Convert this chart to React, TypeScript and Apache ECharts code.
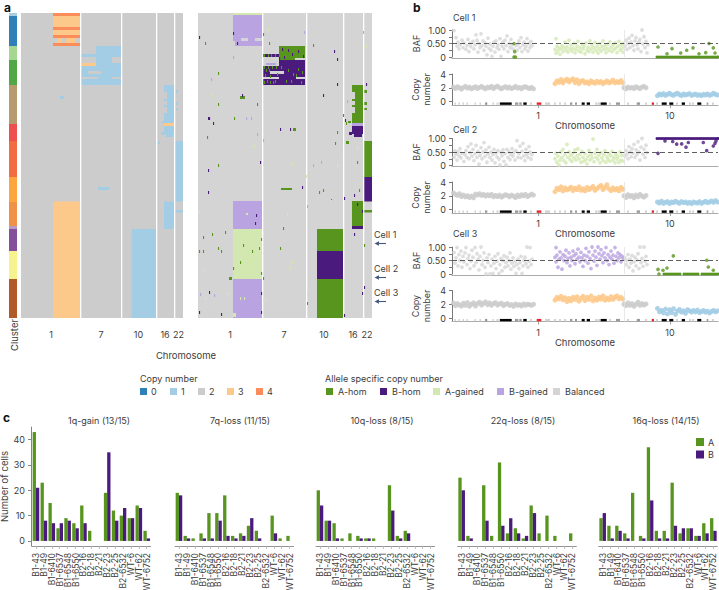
import React, { useEffect, useRef } from "react";
import * as echarts from "echarts";

const FONT = "Inter";
const INK = "#3c3c3c";
const A_HOM = "#57951f", B_HOM = "#4a1a7c", A_GAIN = "#d3e8b1", B_GAIN = "#b9a3e0", BAL = "#d4d4d4";
const CN = ["#2f7fb8", "#a3cde5", "#cccccc", "#fdc98a", "#fb8d5a"];
const CN_LABELS = ["0", "1", "2", "3", "4"];
const ALLELE_LABELS = ["A-hom", "B-hom", "A-gained", "B-gained", "Balanced"];
const ALLELE = [A_HOM, B_HOM, A_GAIN, B_GAIN, BAL, "#ffffff"];
const CN_PAL = [...CN, "#ffffff"];

const CLUSTER_COLORS = ["#a6cee3", "#2f7fb8", "#a6d68f", "#4fa845", "#b89a70", "#ee5050", "#f26c42", "#fda640", "#ef9248", "#b79ac8", "#84509a", "#f6f28e", "#b15928"];
const CLUSTER_ROWS = [[0, 3], [3, 33], [33, 47], [47, 72], [72, 111], [111, 128], [128, 164], [164, 189], [189, 213], [213, 216], [216, 238], [238, 266], [266, 305]];

const CHROM_NAMES = ["1", "7", "10", "16", "22"];
const CHROM_TICKS_A = [30, 80, 117.5, 144, 157.5];
const CHROM_TICKS_B = [32, 86, 126, 155, 169];
const SEPS_A = [59, 100, 135, 153];
const SEPS_B = [64, 108, 145, 165];

const HEAT_A = [
  [0, 162, 0, 305, 2],
  [32, 59, 0, 33, 3], [32, 59, 0, 3, 4], [32, 59, 14, 17, 4], [32, 59, 22, 25, 4], [32, 59, 30, 33, 4],
  [32, 36, 25, 30, 2], [41, 45, 25, 30, 2], [54, 59, 25, 30, 2],
  [32, 59, 188.6, 305, 3], [39, 43, 83, 86, 1],
  [75, 100, 33, 72, 1], [60, 75, 41, 44, 1], [60, 75, 50, 53, 3], [60, 75, 53, 72, 1],
  [91, 100, 44, 50, 2], [67, 80, 58, 61, 2], [60, 77, 64, 66, 2], [91, 100, 64, 66, 2], [77, 88, 174, 177, 1],
  [110.5, 135, 216, 305, 1],
  [143, 153, 72, 79, 1], [146, 153, 79, 100, 1], [143, 146, 86, 88, 1], [143, 146, 92, 94, 1], [143, 153, 100, 110, 1],
  [143, 153, 110, 113, 3], [143, 153, 113, 121, 1], [145, 152, 121, 124, 1], [141, 143, 108, 110, 1], [140, 143, 119, 122, 1], [137, 139, 128, 131, 1],
  [155, 157, 77, 80, 1], [155, 157, 89, 92, 1], [155, 157, 95, 97, 1],
  [143, 153, 188.6, 216, 1],
  [154, 162, 128, 188.6, 1], [154, 162, 197, 199.5, 1],
];

const HEAT_B = [
  [0, 174, 0, 305, 4],
  [35, 64, 0, 2, 2], [35, 64, 2, 33, 3], [43, 50, 25, 28, 4], [57, 64, 25, 28, 4], [35, 37, 28, 33, 4],
  [35, 64, 188, 216, 3], [35, 64, 216, 266, 2], [35, 64, 266, 305, 3],
  [81, 107, 33, 47, 0], [97, 107, 45, 50, 4], [81, 107, 47, 72, 1],
  [65, 81, 41, 44, 1], [68, 78, 50, 52, 3], [65, 81, 53, 72, 1],
  [98, 107, 64, 66, 4], [72, 86, 58, 61, 4], [65, 81, 64, 66, 4],
  [119, 145, 216, 238, 0], [119, 145, 238, 266, 1], [119, 145, 266, 305, 0],
  [154, 165, 72, 79, 0], [157, 165, 79, 100, 0], [154, 157, 86, 88, 0], [154, 157, 92, 94, 0], [154, 165, 100, 110, 0],
  [154, 165, 110, 113, 3], [154, 165, 113, 121, 1], [156, 164, 121, 124, 1], [151, 154, 119, 122, 1],
  [165.5, 169, 77, 80, 0], [165.5, 169, 89, 92, 0], [165.5, 169, 95, 97, 0], [148, 151, 128, 131, 0], [150, 153, 108, 110, 0],
  [154, 165, 188, 213, 0], [154, 165, 213, 216, 1],
  [166, 174, 128, 164, 0], [166, 174, 164, 188.5, 1], [166, 174, 197, 199.5, 0],
  [42, 47, 83, 86, 0], [83, 94, 175, 177, 0], [95, 98, 115, 118, 0], [31, 34, 264, 267, 0], [35, 38, 300, 304, 2], [48, 50, 200, 202, 2],
];

// isolated allele calls in the right heat map: [position, row, state]
const SPECKS_B = [
  [1, 23, 1], [7, 29, 0], [20, 59, 0], [13, 65, 3], [14, 81, 2], [20, 90, 0], [44, 81, 1], [59, 90, 0], [10, 104, 1], [11, 104, 1], [36, 104, 0], [48, 104, 3], [53, 104, 3],
  [15, 109, 1], [9, 123, 0], [59, 120, 3], [56, 132, 2], [65, 126, 3], [62, 148, 1], [20, 151, 0], [10, 156, 1], [10, 178, 1], [35, 19, 1], [35, 43, 3], [39, 29, 1],
  [70, 15, 2], [71, 29, 0], [65, 20, 0], [106, 18, 3], [115, 31, 0], [136, 37, 1], [139, 45, 1], [139, 70, 1], [125, 81, 1], [82, 115, 1], [92, 115, 1], [139, 118, 0],
  [137, 129, 0], [65, 150, 2], [94, 150, 2], [115, 151, 3], [123, 148, 3], [139, 151, 2], [108, 162, 2], [104, 173, 1], [121, 178, 0], [125, 176, 0], [133, 186, 0],
  [146, 184, 1], [156, 181, 1], [161, 176, 0], [149, 87, 3], [145, 101, 0], [147, 106, 1], [148, 109, 0], [168, 70, 1], [165, 18, 3], [168, 32, 2], [159, 148, 0], [159, 134, 2],
  [1, 198, 2], [5, 223, 0], [14, 220, 0], [27, 218, 0], [1, 237, 0], [5, 237, 0], [20, 234, 0], [23, 237, 0], [5, 256, 2], [2, 280, 3], [7, 284, 2], [11, 278, 1], [16, 281, 3],
  [29, 279, 2], [1, 298, 1], [23, 300, 1], [58, 201, 1], [57, 209, 1], [63, 225, 0], [45, 231, 0], [54, 237, 0], [61, 234, 0], [42, 248, 0], [35, 254, 0], [63, 259, 0], [65, 264, 0],
  [42, 284, 2], [46, 284, 2], [63, 279, 1], [63, 298, 1], [65, 286, 2], [67, 286, 2], [89, 200, 2], [85, 214, 0], [82, 234, 0], [94, 248, 2], [92, 253, 2], [109, 192, 3],
  [109, 280, 2], [109, 289, 0], [133, 187, 2], [159, 190, 1], [156, 220, 1], [164, 197, 1], [166, 231, 0], [166, 273, 1], [164, 279, 1], [146, 301, 1],
  // chromosome 7 mixed rows
  [66, 41, 0], [70, 41, 0], [73, 41, 0], [77, 41, 0], [66, 53, 0], [68, 56, 0], [70, 53, 0], [72, 62, 0], [74, 53, 0], [67, 61, 0], [69, 67, 0], [75, 68, 0], [78, 53, 0], [79, 60, 0],
  [66, 68, 0], [72, 68, 0], [77, 67, 0], [71, 56, 0], [83, 53, 0], [90, 56, 0], [95, 60, 0], [88, 67, 0], [93, 67, 0], [100, 55, 0], [104, 58, 0], [98, 61, 0], [103, 68, 0],
  [84, 35, 1], [90, 36, 1], [94, 40, 1], [100, 37, 1], [105, 42, 1], [86, 43, 1], [81, 44, 1],
];

const CATEGORIES = ["B1-43", "B1-49", "B1-6410", "B1-6537", "B1-6548", "B1-6550", "B2-16", "B2-18", "B2-21", "B2-23", "B2-25", "B2-6532", "WT-6", "WT-62", "WT-6752"];
const GAIN1Q_A = [43, 23, 15, 5, 9, 7, 14, 4, 0, 19, 12, 10, 9, 14, 4];
const GAIN1Q_B = [21, 8, 7, 7, 8, 5, 7, 0, 0, 35, 8, 13, 9, 13, 1];
const LOSS7Q_A = [19, 2, 1, 3, 11, 11, 18, 2, 3, 6, 4, 0, 10, 1, 2];
const LOSS7Q_B = [18, 1, 0, 1, 1, 8, 2, 1, 2, 9, 1, 0, 3, 0, 0];
const LOSS10Q_A = [20, 8, 7, 1, 3, 2, 1, 1, 0, 22, 2, 4, 0, 0, 0];
const LOSS10Q_B = [14, 8, 1, 0, 0, 1, 1, 0, 0, 12, 1, 3, 0, 0, 0];
const LOSS22Q_A = [25, 2, 0, 22, 2, 31, 3, 5, 1, 14, 3, 10, 2, 0, 3];
const LOSS22Q_B = [20, 1, 0, 8, 0, 6, 9, 3, 2, 11, 0, 0, 0, 0, 0];
const LOSS16Q_A = [9, 6, 6, 3, 19, 2, 37, 4, 4, 23, 3, 5, 2, 7, 9];
const LOSS16Q_B = [11, 1, 4, 1, 0, 1, 16, 1, 1, 6, 5, 5, 2, 3, 4];
const BAR_PANELS = [
  { title: "1q-gain (13/15)", a: GAIN1Q_A, b: GAIN1Q_B, left: 32, right: 150.7, cx: 99 },
  { title: "7q-loss (11/15)", a: LOSS7Q_A, b: LOSS7Q_B, left: 175, right: 293.6, cx: 240 },
  { title: "10q-loss (8/15)", a: LOSS10Q_A, b: LOSS10Q_B, left: 316, right: 434.6, cx: 382 },
  { title: "22q-loss (8/15)", a: LOSS22Q_A, b: LOSS22Q_B, left: 457.7, right: 576.3, cx: 523 },
  { title: "16q-loss (14/15)", a: LOSS16Q_A, b: LOSS16Q_B, left: 598.7, right: 717.3, cx: 666 },
];

// chromosome band strip: [start, end, shade]
const BAND_SHADES = ["#d2d2d2", "#999999", "#000000", "#e8242a"];
const BANDS = [
  [2.5, 4, 0], [6.5, 8, 0], [10.5, 12, 0], [14.5, 16, 0], [22.5, 24, 0], [27.5, 29, 0], [33, 35.3, 1], [40.5, 42, 0], [44.5, 46, 0], [46.5, 48, 0], [48, 59.7, 2], [63, 66.3, 1], [67.3, 69.7, 1],
  [71.3, 74.7, 2], [78, 80, 0], [84.7, 89.3, 3], [93, 98, 0], [102, 104, 0], [107, 109, 0], [112, 114, 0], [118, 120.3, 1], [123, 125, 1], [129.7, 132.7, 2], [134.7, 138, 2], [143, 145, 0],
  [145.5, 148.7, 0], [148.7, 154.7, 2], [157, 159, 0], [164, 168, 1], [175, 177, 0], [184.7, 188, 1], [193, 195, 0], [199.7, 202, 3], [204, 206, 0], [209.7, 214.7, 2], [217.3, 221.3, 2],
  [224, 226, 0], [229.7, 233, 2], [237, 239, 0], [240, 242, 0], [245.3, 249.3, 2], [254.7, 256.3, 1], [260, 262, 0],
];

// BAF points: [genome position, BAF]
const C1_BAF_GREY_L = [[2, .98], [4, .72], [5, .4], [6, .55], [7, .3], [8, .45], [10, .62], [11, .35], [12, .52], [14, .28], [15, .42], [16, .65], [17, .2], [18, .5], [19, .38], [21, .58], [22, .3], [23, .45], [24, .82], [25, .62], [26, .18], [27, .5], [28, .35], [29, .86], [30, .42], [31, .6], [32, .25], [33, .52], [34, .4], [35, .08], [36, .7], [37, .32], [38, .48], [39, .25], [40, .02], [41, .4], [42, .55], [43, .18], [44, .6], [45, .35], [46, .45], [47, .28], [48, .68], [49, .02], [50, .4], [51, .55], [52, .3], [53, .62], [54, .42], [55, .78], [56, .2], [57, .5], [58, .35], [59, .65], [60, .45], [61, .3], [64, .42], [65, .25], [66, .48], [67, .6], [68, .35], [69, .72], [70, .2], [71, .45], [72, .55], [73, .3], [74, .4], [75, .68], [76, .22], [77, .5], [78, .35], [79, .58], [80, .42]];
const C1_BAF_GAIN = [[103, .28], [104, .14], [104, .68], [105, .4], [106, .22], [107, .33], [108, .1], [109, .3], [110, .42], [111, .2], [112, .35], [113, .55], [114, .25], [115, .38], [116, .18], [117, .62], [118, .3], [119, .45], [120, .22], [121, .33], [122, .5], [123, .15], [124, .28], [125, .4], [126, .58], [127, .22], [128, .35], [129, .18], [130, .48], [131, .3], [132, .4], [133, .12], [134, .52], [135, .25], [136, .36], [137, .2], [138, .6], [139, .3], [140, .44], [141, .18], [142, .34], [143, .54], [144, .24], [145, .4], [146, .14], [147, .3], [148, .5], [149, .22], [150, .38], [151, .6], [152, .28], [153, .42], [154, .16], [155, .32], [156, .48], [157, .24], [158, .56], [159, .36], [160, .2], [161, .44], [162, .28], [163, .52], [164, .34], [165, .16], [166, .4], [167, .58], [168, .26], [169, .44], [170, .32], [171, .18], [171, .5]];
const C1_BAF_GREY_R = [[173, .4], [174, .62], [175, .28], [176, .5], [177, .7], [178, .35], [179, .55], [180, .8], [181, .42], [182, .25], [183, .6], [184, .72], [185, .45], [186, .3], [187, .55], [188, .65], [189, .2], [190, 1], [191, .48], [192, .75], [193, .35], [194, .58], [195, .15], [196, .45]];
const C1_BAF_A = [[62, .5], [62.7, .2], [62, 0], [63.5, 0], [206, .37], [215, .12], [220, .31], [228.7, .15], [234.7, .25], [241, .34], [247, .12], [253.7, .16], [257, .5], [261.3, .34], [263, .15]];
const C1_HOM_X = [205, 207, 209, 211, 213, 215, 217, 219, 221, 223, 225, 227, 229, 231, 233, 235, 237, 239, 241, 243, 245, 247, 249, 251, 253, 255, 257, 259, 261, 263, 265, 266];

const C2_BAF_GREY_L = [[2, .3], [3, .55], [4, .42], [5, .2], [6, .5], [7, .35], [8, .62], [9, .28], [10, .45], [12, .15], [13, .4], [14, .55], [15, .3], [16, .7], [17, .25], [18, .48], [19, .8], [20, .35], [21, .6], [22, .18], [23, .44], [24, .74], [25, .3], [26, .52], [27, .05], [28, .38], [29, .66], [30, .25], [31, .5], [32, .85], [33, .34], [34, .58], [35, .12], [36, .42], [37, .68], [38, .3], [39, .5], [40, .2], [41, .4], [42, .6], [43, .1], [44, .46], [45, .32], [46, .55], [47, .24], [48, .02], [49, .48], [50, .36], [51, .58], [52, .16], [53, .44], [54, .02], [55, .6], [56, .3], [57, .5], [58, .22], [59, .4], [60, .62], [61, .35], [62, .48], [63, .2], [64, .55], [65, .92], [66, .3], [67, .44], [68, .72], [69, .28], [70, .52], [71, .82], [72, .36], [73, .18], [74, .6], [75, .42], [76, .3], [77, .7], [78, .5], [79, .24], [80, .4]];
const C2_BAF_GAIN = [[103, .25], [104, .45], [105, .12], [106, .35], [107, .02], [108, .2], [109, .5], [110, .3], [111, .6], [112, .18], [113, .4], [114, .1], [115, .78], [116, .3], [117, .5], [118, .22], [119, .38], [120, .15], [121, .46], [122, .28], [123, .58], [124, .2], [125, .36], [126, .62], [127, .25], [128, .42], [129, .12], [130, .52], [131, .3], [132, .16], [133, .44], [134, .22], [135, .06], [136, .34], [137, .56], [138, .2], [139, .4], [140, .28], [141, .98], [142, .14], [143, .46], [144, .3], [145, .6], [146, .22], [147, .38], [148, .1], [149, .48], [150, .28], [151, .18], [152, .4], [153, .55], [154, .12], [155, .32], [156, .24], [157, .44], [158, .16], [159, .36], [160, .52], [161, .2], [162, .3], [163, .1], [164, .42], [165, .24], [166, .34], [167, .12], [168, .5], [169, .2], [170, .38], [171, .16]];
const C2_BAF_GREY_R = [[173, .35], [174, .55], [175, .42], [176, .25], [177, .7], [178, .5], [179, .32], [180, .62], [181, .45], [182, .78], [183, .3], [184, .58], [185, .4], [186, .88], [187, .5], [188, .2], [189, .68], [190, 1], [191, .42], [192, .6], [193, .3], [194, .75], [195, .48]];
const C2_BAF_B = [[206, .45], [213, .91], [220.7, .89], [224.7, .79], [229.7, .8], [234, .68], [236.3, .85], [251.3, .85], [254.7, .55], [261.3, .72], [263, .82], [264, .91]];
const C2_HOM_X = [205, 207, 209, 211, 213, 215, 217, 219, 221, 223, 225, 227, 229, 231, 233, 235, 237, 239, 241, 243, 245, 247, 249, 251, 253, 255, 257, 259, 261, 263, 265, 266];

const C3_BAF_GREY_L = [[2, .8], [3, .4], [4, .6], [5, .98], [6, .3], [7, .72], [8, .5], [9, .85], [10, .25], [11, .65], [12, .45], [13, .78], [14, .98], [15, .35], [16, .58], [17, .7], [18, .2], [19, .48], [20, .88], [21, .62], [22, .3], [23, .98], [24, .42], [25, .75], [26, .55], [27, .15], [28, .65], [29, 1], [30, .35], [31, .5], [32, .78], [33, .25], [34, 0], [35, .6], [36, .42], [37, .72], [38, 0], [39, .3], [40, .55], [41, .02], [42, .4], [43, .65], [44, .2], [45, .48], [46, .75], [47, .02], [48, .35], [49, .58], [50, .12], [51, .5], [52, .68], [53, .25], [54, .42], [55, .62], [56, .3], [57, .5], [58, .78], [59, .18], [60, .4], [61, .6], [62, .28], [63, .46], [64, .02], [65, .35], [66, .55], [67, .2], [68, .42], [69, .65], [70, .02], [71, .3], [72, .5], [73, .62], [74, .38], [75, 1], [76, .25], [77, .48], [78, .98], [79, .35], [80, .55]];
const C3_BAF_GAIN = [[103, .62], [104, .98], [104, .45], [105, .7], [106, .25], [107, .55], [108, .82], [109, .6], [110, .18], [111, .72], [112, .5], [113, .66], [114, .88], [115, .42], [116, .58], [117, .78], [118, .3], [119, .62], [120, .5], [121, .85], [122, .68], [123, .38], [124, .75], [125, .55], [126, .92], [127, .62], [128, .45], [129, .8], [130, .6], [131, .28], [132, .7], [133, .5], [134, .95], [135, .66], [136, .4], [137, .82], [138, .58], [139, .2], [140, 1], [141, .7], [142, .48], [143, .85], [144, .62], [145, .32], [146, 1], [147, .75], [148, .55], [149, .9], [150, .68], [151, .42], [152, .78], [153, .6], [154, .98], [155, .5], [156, .72], [157, .35], [158, .62], [159, .85], [160, .55], [161, .7], [162, .4], [163, .98], [164, .65], [165, .5], [166, .78], [167, .6], [168, .72], [169, .45], [170, .66], [171, .58]];
const C3_BAF_GREY_R = [[173, .6], [174, .35], [175, .5], [176, .72], [177, .25], [178, .55], [179, .4], [180, .68], [181, .12], [182, .45], [183, .62], [184, .3], [185, .52], [186, .75], [187, .2], [188, 1], [189, .42], [190, .58], [191, .28], [192, 1], [193, .48], [194, .65], [195, .35]];
const C3_BAF_A = [[206, .17], [211, .14], [215, .22], [221.3, .67], [254.7, .51], [256.3, .26], [261.3, .14], [207, 0]];
const C3_HOM_X = [212, 214, 216, 218, 220, 222, 224, 226, 228, 232, 234, 236, 238, 240, 242, 244, 246, 250, 252, 254, 256, 258, 260, 262, 264, 266];

// copy number per genomic bin; each segment gives its first bin position
const SEG_STARTS = [1.5, 103, 172, 205.5];
const C1_CN_GREY_L = [2.1, 1.9, 2.15, 2, 1.8, 2.05, 2.2, 1.95, 2.1, 1.85, 2, 2.15, 1.9, 2.05, 2.2, 2, 1.85, 2.1, 2, 2.2, 1.9, 2.1, 2.25, 2, 1.85, 2.05, 2.15, 1.95, 2.1, 1.9, 2, 2.2, 1.95, 2.05, 1.85, 2.1, 2.15, 2, 1.9, 2.05, 1.85];
const C1_CN_ORANGE = [2.6, 3, 2.8, 3.2, 2.7, 3.05, 3.25, 2.85, 3.1, 3.3, 2.75, 3.15, 2.6, 2.95, 3.05, 2.7, 2.85, 2.6, 3, 2.8, 2.65, 2.95, 2.75, 2.9, 2.6, 2.8, 3, 2.7, 2.85, 3.1, 2.7, 2.9, 2.75, 3.05, 2.7];
const C1_CN_GREY_R = [2, 1.85, 2.1, 1.95, 2.05, 1.9, 2.15, 2, 1.9, 2.1, 2.2, 2];
const C1_CN_BLUE = [.85, 1.1, .95, 1.15, .9, 1.05, 1.2, 1, .9, 1.1, 1.2, 1, .85, 1.1, .95, 1.05, 1.15, .9, 1, 1.1, .9, 1, .85, 1.05, .95, 1.1, .9, 1, 1.2, 1.05, .95];
const C2_CN_GREY_L = [2.4, 2.2, 2.05, 2.3, 1.9, 2.1, 1.85, 2, 1.75, 1.95, 1.7, 2.25, 2.1, 2.3, 2.05, 2.2, 1.95, 2.15, 2, 2.2, 1.85, 2.05, 1.9, 2.1, 1.8, 2, 2.15, 2.05, 1.85, 2.1, 1.95, 1.75, 2.1, 1.9, 2.15, 2, 2.2, 1.9, 2.05, 2.25, 2.1];
const C2_CN_ORANGE = [2.6, 3.1, 2.9, 3.3, 2.7, 3.15, 2.85, 3, 3.25, 2.75, 3.1, 2.9, 3.3, 2.8, 3, 2.7, 3.2, 2.9, 3.1, 3.35, 2.8, 3.05, 3.3, 3.5, 2.9, 3.2, 3.6, 3, 2.75, 3.15, 2.85, 3.05, 2.7, 3.2, 2.95];
const C2_CN_GREY_R = [2, 1.75, 2.15, 1.9, 2.05, 1.7, 2.1, 1.85, 2.2, 1.95, 1.8, 2.05];
const C2_CN_BLUE = [1.1, .95, 1.2, .9, 1.05, 1.15, .85, 1.1, 1, 1.2, 1.05, .9, 1.15, 1, 1.1, .9, 1.05, .85, 1.1, 1, .95, 1.15, .9, 1.05, 1.2, 1, 1.1, 1.25, 1.05, 1.3, 1.1];
const C3_CN_GREY_L = [2.2, 1.8, 2.1, 1.9, 1.75, 2.15, 1.85, 2.25, 1.7, 2, 2.2, 1.75, 2.1, 2.3, 1.9, 2.15, 2.35, 1.95, 2.2, 1.85, 2.1, 2.25, 1.9, 2.05, 2.15, 1.8, 2, 2.1, 1.85, 1.95, 1.7, 2.05, 1.85, 1.95, 1.75, 2.05, 1.85, 2, 1.95, 1.85, 2];
const C3_CN_ORANGE = [2.6, 3, 2.8, 3.15, 2.65, 2.95, 2.4, 2.85, 2.5, 3, 2.7, 3.1, 2.45, 2.85, 3.15, 2.55, 3, 2.7, 3.2, 2.5, 2.9, 2.6, 3.05, 2.75, 3.2, 2.6, 2.9, 2.65, 3.1, 2.7, 3, 3.2, 2.8, 3, 2.75];
const C3_CN_GREY_R = [2, 1.8, 2.2, 1.85, 2.1, 1.7, 2, 2.3, 1.85, 2.1, 1.9, 2.05];
const C3_CN_BLUE = [1.4, .9, 1.1, .75, 1.3, .6, 1.2, .8, 1.35, .55, 1, 1.25, .85, 1.05, .7, 1.2, 1.05, .85, 1.1, .9, 1.15, .8, .95, 1.1, .85, 1, .75, .95, 1.1, .9, 1.05];

const CELLS = [
  { name: "Cell 1", titleY: 17, bafTop: 30, cnTop: 74, xLabelY: 125, grey: [C1_BAF_GREY_L, C1_BAF_GREY_R], gain: C1_BAF_GAIN, gainColor: A_GAIN, hom: C1_BAF_A, homColor: A_HOM, homX: C1_HOM_X, homY: 0, cn: [C1_CN_GREY_L, C1_CN_ORANGE, C1_CN_GREY_R, C1_CN_BLUE] },
  { name: "Cell 2", titleY: 129, bafTop: 138.5, cnTop: 182, xLabelY: 233, grey: [C2_BAF_GREY_L, C2_BAF_GREY_R], gain: C2_BAF_GAIN, gainColor: A_GAIN, hom: C2_BAF_B, homColor: B_HOM, homX: C2_HOM_X, homY: 1, cn: [C2_CN_GREY_L, C2_CN_ORANGE, C2_CN_GREY_R, C2_CN_BLUE] },
  { name: "Cell 3", titleY: 233, bafTop: 247, cnTop: 290.5, xLabelY: 341.5, grey: [C3_BAF_GREY_L, C3_BAF_GREY_R], gain: C3_BAF_GAIN, gainColor: B_GAIN, hom: C3_BAF_A, homColor: A_HOM, homX: C3_HOM_X, homY: 0, cn: [C3_CN_GREY_L, C3_CN_ORANGE, C3_CN_GREY_R, C3_CN_BLUE] },
];

const rectItem = (palette: string[]) => (_: any, api: any) => {
  const p0 = api.coord([api.value(0), api.value(2)]);
  const p1 = api.coord([api.value(1), api.value(3)]);
  return {
    type: "rect",
    shape: { x: p0[0], y: p0[1], width: p1[0] - p0[0], height: p1[1] - p0[1] },
    style: { fill: palette[api.value(4)] },
  };
};

const txt = (x: number, y: number, text: string, o: any = {}) => ({
  type: "text", x, y, rotation: o.rotation || 0, silent: true,
  style: {
    text, fill: o.fill || INK, fontFamily: FONT, fontSize: o.size || 9, fontWeight: o.weight || 400,
    textAlign: o.align || "left", textVerticalAlign: "middle",
  },
});

function buildOption() {
  const grid: any[] = [], xAxis: any[] = [], yAxis: any[] = [], series: any[] = [], graphic: any[] = [];
  const addGrid = (left: number, top: number, width: number, height: number) => {
    grid.push({ left, top, width, height, containLabel: false, outerBoundsMode: "none" });
    return grid.length - 1;
  };
  const hiddenY = (i: number, max: number) => yAxis.push({ gridIndex: i, type: "value", min: 0, max, inverse: true, show: false });
  const custom = (i: number, data: number[][], palette: string[]) =>
    series.push({ type: "custom", xAxisIndex: i, yAxisIndex: i, data, silent: true, clip: false, renderItem: rectItem(palette), encode: { x: [0, 1], y: [2, 3] } });

  // cluster bar
  const gc = addGrid(9, 13, 8, 305);
  xAxis.push({ gridIndex: gc, type: "value", min: 0, max: 1, show: false });
  hiddenY(gc, 305);
  custom(gc, CLUSTER_ROWS.map((r, k) => [0, 1, r[0], r[1], k]), CLUSTER_COLORS);

  // heat maps
  const heat = (left: number, width: number, rects: number[][], seps: number[], ticks: number[], pal: string[]) => {
    const g = addGrid(left, 13, width, 305);
    xAxis.push({
      gridIndex: g, type: "value", min: 0, max: width, position: "bottom", offset: 4,
      axisLine: { show: false }, splitLine: { show: false }, minorTick: { show: false },
      axisTick: { show: true, length: 3, customValues: ticks, lineStyle: { color: "#8a8a8a", width: 1 } },
      axisLabel: { show: true, customValues: ticks, margin: 8, fontSize: 9, color: INK, fontFamily: FONT, formatter: (v: number) => CHROM_NAMES[ticks.indexOf(v)] ?? "" },
    });
    hiddenY(g, 305);
    const sepRects = seps.map((s) => [s, s + 1.3, 0, 305, 5]);
    custom(g, [...rects, ...sepRects], pal);
    return g;
  };
  heat(21, 162, HEAT_A, SEPS_A, CHROM_TICKS_A, CN_PAL);
  const gb = heat(198, 174, HEAT_B, SEPS_B, CHROM_TICKS_B, ALLELE);
  custom(gb, SPECKS_B.map((s) => [s[0], s[0] + 1.1, s[1], s[1] + 3, s[2]]), ALLELE);

  // cell panels
  CELLS.forEach((cell) => {
    const gBaf = addGrid(452, cell.bafTop, 266, 27);
    xAxis.push({ gridIndex: gBaf, type: "value", min: 0, max: 266, offset: 1, axisLine: { show: true, onZero: false, lineStyle: { color: "#ababab", width: 1.2 } }, axisTick: { show: false }, axisLabel: { show: false }, splitLine: { show: false } });
    yAxis.push({
      gridIndex: gBaf, type: "value", min: 0, max: 1, interval: 0.25, name: "BAF", nameLocation: "middle", nameGap: 31, nameRotate: 90,
      nameTextStyle: { fontSize: 9, color: INK, fontFamily: FONT },
      axisLine: { show: true, lineStyle: { color: "#555", width: 0.8 } }, axisTick: { show: true, length: 3, lineStyle: { color: "#555", width: 0.8 } }, splitLine: { show: false },
      axisLabel: { margin: 6, fontSize: 9, color: INK, fontFamily: FONT, formatter: (v: number) => (v === 1 ? "1.00" : v === 0.5 ? "0.50" : v === 0 ? "0" : "") },
    });
    const sc = (g: number, data: any[], color: string, size = 3.8, opacity = 0.8, extra: any = {}) =>
      series.push({ type: "scatter", xAxisIndex: g, yAxisIndex: g, data, symbolSize: size, clip: false, silent: true, itemStyle: { color, opacity }, ...extra });
    sc(gBaf, cell.grey[0], "#d6d6d6", 3.8, 0.8, {
      markLine: { silent: true, symbol: "none", label: { show: false }, animation: false, lineStyle: { color: "#4d4d4d", type: [5, 3], width: 0.9 }, data: [{ yAxis: 0.5 }] },
    });
    sc(gBaf, cell.grey[1], "#d6d6d6", 3.8, 0.8, {
      markLine: { silent: true, symbol: "none", label: { show: false }, animation: false, lineStyle: { color: "#e2e2e2", type: "solid", width: 0.8 }, data: [{ xAxis: 172 }] },
    });
    sc(gBaf, cell.gain, cell.gainColor);
    sc(gBaf, cell.hom, cell.homColor, 3.6, 0.8);
    sc(gBaf, cell.homX.map((x) => [x, cell.homY]), cell.homColor, 3, 1);

    const gCn = addGrid(452, cell.cnTop, 266, 31);
    const ticks = [86, 218];
    xAxis.push({
      gridIndex: gCn, type: "value", min: 0, max: 266, name: "Chromosome", nameLocation: "middle", nameGap: cell.xLabelY - (cell.cnTop + 31),
      nameTextStyle: { fontSize: 9.5, color: INK, fontFamily: FONT, verticalAlign: "middle" },
      axisLine: { show: true, onZero: false, lineStyle: { color: "#ababab", width: 1 } },
      axisTick: { show: true, length: 3, customValues: ticks, lineStyle: { color: "#8a8a8a", width: 0.8 } }, splitLine: { show: false },
      axisLabel: { show: true, customValues: ticks, margin: 6, fontSize: 9, color: INK, fontFamily: FONT, formatter: (v: number) => (v === 86 ? "1" : "10") },
    });
    yAxis.push({
      gridIndex: gCn, type: "value", min: -0.5, max: 4, name: "Copy\nnumber", nameLocation: "middle", nameGap: 20, nameRotate: 90,
      nameTextStyle: { fontSize: 9, color: INK, fontFamily: FONT, lineHeight: 11 },
      axisLine: { show: true, lineStyle: { color: "#555", width: 0.8 } }, splitLine: { show: false },
      axisTick: { show: true, length: 3, customValues: [0, 2, 4], lineStyle: { color: "#555", width: 0.8 } },
      axisLabel: { margin: 6, fontSize: 9, color: INK, fontFamily: FONT, customValues: [0, 2, 4] },
    });
    const cnColors = [CN[2], CN[3], CN[2], CN[1]];
    cell.cn.forEach((vals, k) => {
      const extra = k === 0 ? { markLine: { silent: true, symbol: "none", label: { show: false }, animation: false, lineStyle: { color: "#e2e2e2", type: "solid", width: 0.8 }, data: [{ xAxis: 172 }] } } : {};
      sc(gCn, vals.map((v, i) => [SEG_STARTS[k] + i * 2, v]), cnColors[k], 5, 0.9, extra);
    });
    series.push({
      type: "custom", xAxisIndex: gCn, yAxisIndex: gCn, silent: true, clip: false, data: BANDS, encode: { x: [0, 1] },
      renderItem: (_: any, api: any) => {
        const p0 = api.coord([api.value(0), -0.3]);
        const p1 = api.coord([api.value(1), -0.3]);
        return { type: "rect", shape: { x: p0[0], y: p0[1] - 1.2, width: p1[0] - p0[0], height: 2.4 }, style: { fill: BAND_SHADES[api.value(2)] } };
      },
    });
    graphic.push(txt(453, cell.titleY, cell.name, { size: 9 }));
  });

  // bars
  BAR_PANELS.forEach((p, k) => {
    const g = addGrid(p.left, 427, p.right - p.left, 119);
    xAxis.push({
      gridIndex: g, type: "category", data: CATEGORIES,
      axisLine: { show: true, onZero: false, lineStyle: { color: "#888", width: 0.9 } },
      axisTick: { show: true, alignWithLabel: true, length: 3, lineStyle: { color: "#b0b0b0", width: 0.8 } },
      axisLabel: { interval: 0, rotate: 90, margin: 7, fontSize: 8.5, color: INK, fontFamily: FONT, hideOverlap: false },
    });
    yAxis.push(k === 0 ? {
      gridIndex: g, type: "value", min: -2, max: 45, name: "Number of cells", nameLocation: "middle", nameGap: 24, nameRotate: 90, offset: 1,
      nameTextStyle: { fontSize: 9.5, color: INK, fontFamily: FONT, verticalAlign: "middle" },
      axisLine: { show: true, lineStyle: { color: "#666", width: 0.8 } }, splitLine: { show: false },
      axisTick: { show: true, length: 3, customValues: [0, 10, 20, 30, 40], lineStyle: { color: "#666", width: 0.8 } },
      axisLabel: { margin: 6, fontSize: 9, color: INK, fontFamily: FONT, customValues: [0, 10, 20, 30, 40] },
    } : { gridIndex: g, type: "value", min: -2, max: 45, show: false });
    series.push(
      { type: "bar", name: "A", xAxisIndex: g, yAxisIndex: g, data: p.a, barWidth: 3.3, barGap: 0, itemStyle: { color: A_HOM }, silent: true },
      { type: "bar", name: "B", xAxisIndex: g, yAxisIndex: g, data: p.b, barWidth: 3.3, barGap: 0, itemStyle: { color: B_HOM }, silent: true },
    );
    graphic.push(txt(p.cx, 420, p.title, { align: "center", size: 9 }));
  });

  // annotations
  graphic.push(
    txt(4, 7, "a", { size: 12, weight: 700, fill: "#111" }),
    txt(413, 7, "b", { size: 12, weight: 700, fill: "#111" }),
    txt(3, 417, "c", { size: 12, weight: 700, fill: "#111" }),
    txt(14, 335, "Cluster", { rotation: Math.PI / 2, align: "center", size: 9.5 }),
    txt(186, 355, "Chromosome", { align: "center", size: 9.5 }),
    txt(140, 378, "Copy number", { size: 9 }),
    txt(325, 378, "Allele specific copy number", { size: 9 }),
  );
  [234, 268, 292].forEach((y, i) => {
    graphic.push(txt(374, y, CELLS[i].name, { size: 9 }));
    const ay = y + 9.5;
    graphic.push(
      { type: "line", silent: true, shape: { x1: 377, y1: ay, x2: 386, y2: ay }, style: { stroke: "#46597c", lineWidth: 1.1 } },
      { type: "polygon", silent: true, shape: { points: [[374.5, ay], [379, ay - 2.2], [379, ay + 2.2]] }, style: { fill: "#46597c" } },
    );
  });
  const swatch = (x: number, color: string) => ({ type: "rect", silent: true, shape: { x, y: 388, width: 7, height: 7 }, style: { fill: color } });
  [140, 170, 198, 227, 256].forEach((x, i) => {
    graphic.push(swatch(x, CN[i]), txt(x + 11, 391.5, CN_LABELS[i], { size: 9 }));
  });
  [326, 380, 433, 497, 553].forEach((x, i) => {
    graphic.push(swatch(x, ALLELE[i]), txt(x + 12, 391.5, ALLELE_LABELS[i], { size: 9 }));
  });

  return {
    animation: false,
    backgroundColor: "#ffffff",
    textStyle: { fontFamily: FONT },
    grid, xAxis, yAxis, series, graphic,
    legend: {
      data: ["A", "B"], orient: "vertical", left: 696, top: 437.5, itemWidth: 8, itemHeight: 8, itemGap: 3.5, icon: "rect", selectedMode: false, padding: 0,
      textStyle: { fontSize: 9, color: INK, fontFamily: FONT, padding: [0, 0, 0, -1] },
    },
  };
}

export default function App() {
  const ref = useRef<HTMLDivElement>(null);
  useEffect(() => {
    const chart = echarts.init(ref.current!, undefined, { renderer: "svg" });
    chart.setOption(buildOption() as any);
    return () => chart.dispose();
  }, []);
  return <div ref={ref} style={{ position: "absolute", left: 0, top: 0, width: 719, height: 590, overflow: "hidden" }} />;
}
